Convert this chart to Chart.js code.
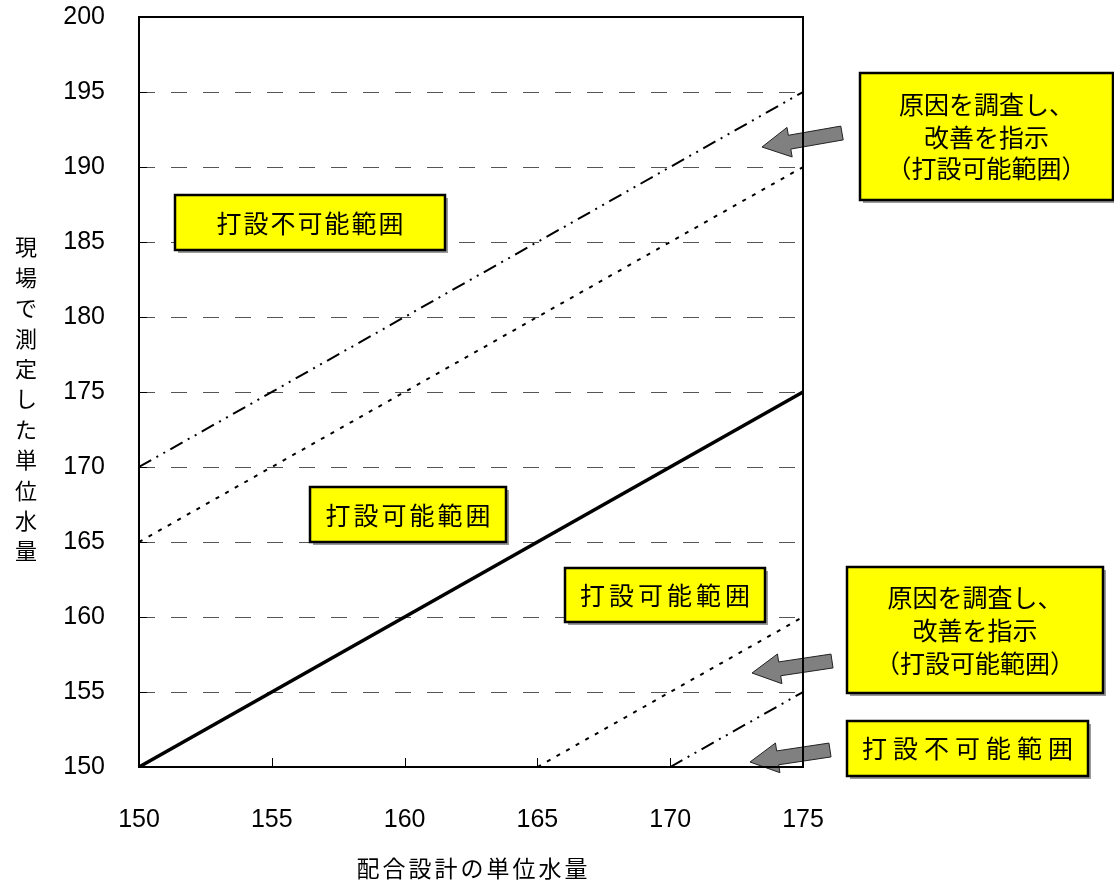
<!DOCTYPE html>
<html><head><meta charset="utf-8">
<script src="https://cdn.jsdelivr.net/npm/chart.js@4/dist/chart.umd.min.js"></script>
<style>html,body{margin:0;padding:0;background:#fff;overflow:hidden}</style>
</head><body>
<canvas id="c" width="1114" height="889"></canvas>
<script>
// ---- data ----
const xTicks = [150, 155, 160, 165, 170, 175];
const yTicks = [150, 155, 160, 165, 170, 175, 180, 185, 190, 195, 200];
const standardX = [150, 175];   const standardY = [150, 175];
const upperWarnX = [150, 175];  const upperWarnY = [165, 190];
const upperLimitX = [150, 175]; const upperLimitY = [170, 195];
const lowerWarnX = [165, 175];  const lowerWarnY = [150, 160];
const lowerLimitX = [170, 175]; const lowerLimitY = [150, 155];
const xTitle = '配合設計の単位水量';
const yTitle = '現場で測定した単位水量';
const boxTextA = ['原因を調査し、', '改善を指示', '（打設可能範囲）'];
const boxTextB = ['打設不可能範囲'];
const boxTextC = ['打設可能範囲'];
const boxTextD = ['打設可能範囲'];
const boxTextE = ['原因を調査し、', '改善を指示', '（打設可能範囲）'];
const boxTextF = ['打設不可能範囲'];

const pts = (xs, ys) => xs.map((x, i) => ({x, y: ys[i]}));

const CJK = '"Noto Sans CJK JP", "Noto Sans", sans-serif';

// annotation layout (pixels)
const boxes = [
  {x: 860, y: 73, w: 253, h: 127, lines: boxTextA, cy: [104, 137, 168], sp: 0},
  {x: 175, y: 195, w: 270, h: 55, lines: boxTextB, cy: [223], sp: 2},
  {x: 310, y: 487, w: 196, h: 55, lines: boxTextC, cy: [515], sp: 3},
  {x: 565, y: 568, w: 200, h: 54, lines: boxTextD, cy: [595], sp: 4},
  {x: 847, y: 567, w: 256, h: 126, lines: boxTextE, cy: [597, 630, 663], sp: 0},
  {x: 847, y: 721, w: 241, h: 55, lines: boxTextF, cy: [748], sp: 6}
];
const arrows = [
  {x1: 842, y1: 133, x2: 762, y2: 147},
  {x1: 832, y1: 661, x2: 752, y2: 673},
  {x1: 830, y1: 750, x2: 750, y2: 762}
];

function drawSpaced(ctx, text, cx, cy, sp) {
  const chars = Array.from(text);
  const ws = chars.map(c => ctx.measureText(c).width);
  const total = ws.reduce((a, b) => a + b, 0) + sp * (chars.length - 1);
  let x = cx - total / 2;
  ctx.textAlign = 'left';
  ctx.textBaseline = 'middle';
  chars.forEach((c, i) => { ctx.fillText(c, x, cy); x += ws[i] + sp; });
}

function drawArrow(ctx, a) {
  const dx = a.x2 - a.x1, dy = a.y2 - a.y1;
  const L = Math.hypot(dx, dy);
  const ux = dx / L, uy = dy / L, nx = -uy, ny = ux;
  const sw = 7, hw = 15, hl = 28;
  const bx = a.x2 - ux * hl, by = a.y2 - uy * hl;
  ctx.beginPath();
  ctx.moveTo(a.x1 + nx * sw, a.y1 + ny * sw);
  ctx.lineTo(bx + nx * sw, by + ny * sw);
  ctx.lineTo(bx + nx * hw, by + ny * hw);
  ctx.lineTo(a.x2, a.y2);
  ctx.lineTo(bx - nx * hw, by - ny * hw);
  ctx.lineTo(bx - nx * sw, by - ny * sw);
  ctx.lineTo(a.x1 - nx * sw, a.y1 - ny * sw);
  ctx.closePath();
  ctx.fillStyle = '#808080';
  ctx.fill();
  ctx.strokeStyle = '#222';
  ctx.lineWidth = 1;
  ctx.stroke();
}

const decor = {
  id: 'decor',
  beforeDatasetsDraw(chart) {
    const ctx = chart.ctx, ca = chart.chartArea, ys = chart.scales.y;
    ctx.save();
    ctx.strokeStyle = '#555';
    ctx.lineWidth = 1;
    ctx.setLineDash([16, 16]);
    yTicks.forEach(v => {
      if (v === 150 || v === 200) return;
      const py = Math.round(ys.getPixelForValue(v)) + 0.5;
      ctx.beginPath(); ctx.moveTo(ca.left, py); ctx.lineTo(ca.right, py); ctx.stroke();
    });
    ctx.restore();
  },
  afterDatasetsDraw(chart) {
    const ctx = chart.ctx, ca = chart.chartArea, xs = chart.scales.x, ys = chart.scales.y;
    ctx.save();
    arrows.forEach(a => drawArrow(ctx, a));
    // frame
    ctx.strokeStyle = '#000';
    ctx.lineWidth = 2;
    ctx.setLineDash([]);
    ctx.strokeRect(ca.left, ca.top, ca.right - ca.left, ca.bottom - ca.top);
    // inside ticks
    ctx.lineWidth = 1;
    xTicks.forEach(v => {
      const px = Math.round(xs.getPixelForValue(v)) + 0.5;
      ctx.beginPath(); ctx.moveTo(px, ca.bottom); ctx.lineTo(px, ca.bottom - 9); ctx.stroke();
    });
    yTicks.forEach(v => {
      const py = Math.round(ys.getPixelForValue(v)) + 0.5;
      ctx.beginPath(); ctx.moveTo(ca.left, py); ctx.lineTo(ca.left + 8, py); ctx.stroke();
    });
    // boxes
    boxes.forEach(b => {
      ctx.fillStyle = '#9a9a9a';
      ctx.fillRect(b.x + 3, b.y + 3, b.w, b.h);
      ctx.fillStyle = '#ffff00';
      ctx.fillRect(b.x, b.y, b.w, b.h);
      ctx.strokeStyle = '#000';
      ctx.lineWidth = 2.5;
      ctx.strokeRect(b.x, b.y, b.w, b.h);
      ctx.fillStyle = '#000';
      ctx.font = '25px ' + CJK;
      b.lines.forEach((t, i) => drawSpaced(ctx, t, b.x + b.w / 2, b.cy[i], b.sp));
    });
    // axis titles
    ctx.fillStyle = '#000';
    ctx.font = '23px ' + CJK;
    drawSpaced(ctx, xTitle, 472, 868, 3);
    ctx.font = '22px ' + CJK;
    ctx.textAlign = 'center';
    ctx.textBaseline = 'middle';
    Array.from(yTitle).forEach((c, i) => ctx.fillText(c, 26, 247 + i * 30.4));
    ctx.restore();
  }
};

new Chart(document.getElementById('c'), {
  type: 'scatter',
  data: {
    datasets: [
      {data: pts(standardX, standardY), borderColor: '#000', borderWidth: 3.5},
      {data: pts(upperWarnX, upperWarnY), borderColor: '#000', borderWidth: 2, borderDash: [4, 7]},
      {data: pts(upperLimitX, upperLimitY), borderColor: '#000', borderWidth: 2, borderDash: [14, 6, 2, 6, 2, 6]},
      {data: pts(lowerWarnX, lowerWarnY), borderColor: '#000', borderWidth: 2, borderDash: [4, 7]},
      {data: pts(lowerLimitX, lowerLimitY), borderColor: '#000', borderWidth: 2, borderDash: [14, 6, 2, 6, 2, 6]}
    ].map(d => Object.assign(d, {showLine: true, pointRadius: 0, pointHoverRadius: 0, fill: false, tension: 0}))
  },
  options: {
    responsive: false,
    animation: false,
    devicePixelRatio: 1,
    layout: {padding: {left: 0, top: 17, right: 311, bottom: 0}},
    plugins: {legend: {display: false}, tooltip: {enabled: false}},
    scales: {
      x: {
        type: 'linear', min: 150, max: 175,
        afterBuildTicks: s => { s.ticks = xTicks.map(v => ({value: v})); },
        ticks: {color: '#000', padding: 30, font: {family: '"Liberation Sans", Arial, sans-serif', size: 25}, maxRotation: 0},
        grid: {display: false}, border: {display: false},
        afterFit: s => { s.height = 122; s.paddingLeft = 0; s.paddingRight = 0; }
      },
      y: {
        type: 'linear', min: 150, max: 200,
        afterBuildTicks: s => { s.ticks = yTicks.map(v => ({value: v})); },
        ticks: {color: '#000', padding: 26, font: {family: '"Liberation Sans", Arial, sans-serif', size: 25}},
        grid: {display: false}, border: {display: false},
        afterFit: s => { s.width = 139; s.paddingTop = 0; s.paddingBottom = 0; }
      }
    }
  },
  plugins: [decor]
});
</script>
</body></html>
